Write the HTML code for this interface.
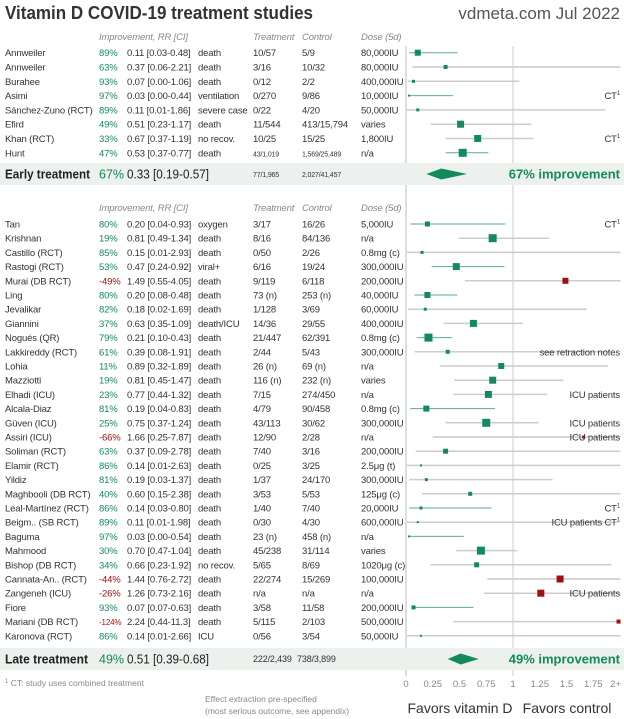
<!DOCTYPE html>
<html><head><meta charset="utf-8"><style>
html,body{margin:0;padding:0;background:#fff;}
svg{display:block;font-family:"Liberation Sans",sans-serif;}
</style></head><body>
<svg id="chart" width="624" height="719" viewBox="0 0 624 719" xmlns="http://www.w3.org/2000/svg">
<rect x="0" y="0" width="624" height="719" fill="#fff"/>
<text x="5" y="19" font-size="18" font-weight="bold" fill="#333" textLength="308" lengthAdjust="spacingAndGlyphs">Vitamin D COVID-19 treatment studies</text>
<text x="620" y="19" font-size="17" fill="#555" text-anchor="end">vdmeta.com Jul 2022</text>
<g id="g"></g>
</svg>
<script>
const earlyNames=["Annweiler","Annweiler","Burahee","Asimi","Sánchez-Zuno (RCT)","Efird","Khan (RCT)","Hunt"];
const earlyPct=["89%","63%","93%","97%","89%","49%","33%","47%"];
const earlyRR=[0.11,0.37,0.07,0.03,0.11,0.51,0.67,0.53];
const earlyLo=[0.03,0.06,0.00,0.00,0.01,0.23,0.37,0.37];
const earlyHi=[0.48,2.21,1.06,0.44,1.86,1.17,1.19,0.77];
const earlyOut=["death","death","death","ventilation","severe case","death","no recov.","death"];
const earlyT=["10/57","3/16","0/12","0/270","0/22","11/544","10/25","43/1,019"];
const earlyC=["5/9","10/32","2/2","9/86","4/20","413/15,794","15/25","1,569/25,489"];
const earlyDose=["80,000IU","80,000IU","400,000IU","10,000IU","50,000IU","varies","1,800IU","n/a"];
const earlyW=[6,4,3,2,3,7,7,8];
const earlyNote=["","","","CT¹","","","CT¹",""];

const lateNames=["Tan","Krishnan","Castillo (RCT)","Rastogi (RCT)","Murai (DB RCT)","Ling","Jevalikar","Giannini","Nogués (QR)","Lakkireddy (RCT)","Lohia","Mazziotti","Elhadi (ICU)","Alcala-Diaz","Güven (ICU)","Assiri (ICU)","Soliman (RCT)","Elamir (RCT)","Yildiz","Maghbooli (DB RCT)","Leal-Martínez (RCT)","Beigm.. (SB RCT)","Baguma","Mahmood","Bishop (DB RCT)","Cannata-An.. (RCT)","Zangeneh (ICU)","Fiore","Mariani (DB RCT)","Karonova (RCT)"];
const latePct=["80%","19%","85%","53%","-49%","80%","82%","37%","79%","61%","11%","19%","23%","81%","25%","-66%","63%","86%","81%","40%","86%","89%","97%","30%","34%","-44%","-26%","93%","-124%","86%"];
const lateRR=[0.20,0.81,0.15,0.47,1.49,0.20,0.18,0.63,0.21,0.39,0.89,0.81,0.77,0.19,0.75,1.66,0.37,0.14,0.19,0.60,0.14,0.11,0.03,0.70,0.66,1.44,1.26,0.07,2.24,0.14];
const lateLo=[0.04,0.49,0.01,0.24,0.55,0.08,0.02,0.35,0.10,0.08,0.32,0.45,0.44,0.04,0.37,0.25,0.09,0.01,0.03,0.15,0.03,0.01,0.00,0.47,0.23,0.76,0.73,0.07,0.44,0.01];
const lateHi=[0.93,1.34,2.93,0.92,4.05,0.48,1.69,1.09,0.43,1.91,1.89,1.47,1.32,0.83,1.24,7.87,2.78,2.63,1.37,2.38,0.80,1.98,0.54,1.04,1.92,2.72,2.16,0.63,11.3,2.66];
const lateOut=["oxygen","death","death","viral+","death","death","death","death/ICU","death","death","death","death","death","death","death","death","death","death","death","death","death","death","death","death","no recov.","death","death","death","death","ICU"];
const lateT=["3/17","8/16","0/50","6/16","9/119","73 (n)","1/128","14/36","21/447","2/44","26 (n)","116 (n)","7/15","4/79","43/113","12/90","7/40","0/25","1/37","3/53","1/40","0/30","23 (n)","45/238","5/65","22/274","n/a","3/58","5/115","0/56"];
const lateC=["16/26","84/136","2/26","19/24","6/118","253 (n)","3/69","29/55","62/391","5/43","69 (n)","232 (n)","274/450","90/458","30/62","2/28","3/16","3/25","24/170","5/53","7/40","4/30","458 (n)","31/114","8/69","15/269","n/a","11/58","2/103","3/54"];
const lateDose=["5,000IU","n/a","0.8mg (c)","300,000IU","200,000IU","40,000IU","60,000IU","400,000IU","0.8mg (c)","300,000IU","n/a","varies","n/a","0.8mg (c)","300,000IU","n/a","200,000IU","2.5μg (t)","300,000IU","125μg (c)","20,000IU","600,000IU","n/a","varies","1020μg (c)","100,000IU","n/a","200,000IU","500,000IU","50,000IU"];
const lateW=[5,8,3,7,6,6,3,7,8,4,6,7,7,6,8,3,5,2,3,4,3,2,2,8,5,7,7,4,4,2];
const lateNote=["CT¹","","","","","","","","","see retraction notes","","","ICU patients","","ICU patients","ICU patients","","","","","CT¹","ICU patients CT¹","","","","","ICU patients","","",""];

const sumLabels=["Early treatment","Late treatment"];
const sumPct=["67%","49%"];
const sumRR=[0.33,0.51];
const sumLo=[0.19,0.39];
const sumHi=[0.57,0.68];
const sumT=["77/1,965","222/2,439"];
const sumC=["2,027/41,457","738/3,899"];
const ticks=[0,0.25,0.5,0.75,1,1.25,1.5,1.75,2];
const tickLabels=["0","0.25","0.5","0.75","1","1.25","1.5","1.75","2+"];

const NS="http://www.w3.org/2000/svg";
const g=document.getElementById('g');
const X0=406, XS=107;
function xs(v){return X0+XS*Math.min(v,2.005);}
function mk(tag,attrs,txt){const e=document.createElementNS(NS,tag);for(const k in attrs)e.setAttribute(k,attrs[k]);if(txt!==undefined)e.textContent=txt;g.appendChild(e);return e;}
const GREEN="#138a5c", RED="#a01010", TXT="#333";
const FS=9.5, LS=-0.15;

let e=mk('line',{x1:X0,x2:X0,y1:46,y2:676,stroke:"#bbb","stroke-width":1});


e=mk('line',{x1:xs(1),x2:xs(1),y1:46,y2:676,stroke:"#ccc","stroke-width":1});



function header(y){
  const h=[["Improvement, RR [CI]",99],["Treatment",253],["Control",302],["Dose (5d)",361]];
  h.forEach(([t,x])=>{const el=mk('text',{x:x,y:y,"font-size":9.5,"font-style":"italic",fill:"#888","letter-spacing":LS},t);
    
    });
}
header(40); header(211);

function rows(names,pct,rr,lo,hi,out,T,C,dose,w,note,y0,dy,grp){
  for(let i=0;i<names.length;i++){
    const y=y0+i*dy, b=y+3.5;
    const neg=pct[i].startsWith('-');
    let t=mk('text',{x:5,y:b,"font-size":FS,fill:TXT,"letter-spacing":LS},names[i]);
    
    
    t=mk('text',{x:99,y:b,"font-size":pct[i].length>4?8:FS,fill:neg?RED:GREEN,"letter-spacing":LS},pct[i]);
    
    
    const hs=hi[i]>=10?hi[i].toFixed(1):hi[i].toFixed(2);
    t=mk('text',{x:127,y:b,"font-size":FS,fill:TXT,"letter-spacing":LS},rr[i].toFixed(2)+" ["+lo[i].toFixed(2)+"-"+hs+"]");
    
    
    t=mk('text',{x:198,y:b,"font-size":FS,fill:TXT,"letter-spacing":LS},out[i]);
    
    
    t=mk('text',{x:253,y:b,"font-size":T[i].length>7?7:FS,fill:TXT,"letter-spacing":LS},T[i]);
    
    
    t=mk('text',{x:302,y:b,"font-size":C[i].length>10?7:FS,fill:TXT,"letter-spacing":LS},C[i]);
    
    
    t=mk('text',{x:361,y:b,"font-size":FS,fill:TXT,"letter-spacing":LS},dose[i]);
    
    
    const sig=hi[i]<1;
    const l=mk('line',{x1:xs(lo[i])+(lo[i]===0?2:0),x2:xs(hi[i]),y1:y,y2:y,stroke:sig?"#5aae88":"#ccc","stroke-width":sig?1:1.5});
    
    
    const s=w[i], col=rr[i]>1?RED:GREEN;
    const r=mk('rect',{x:xs(rr[i])-s/2-(rr[i]>2?s/2:0),y:y-s/2,width:s,height:s,fill:col});
    
    
    if(note[i]){
      const parts=note[i].split('¹');
      const nt=mk('text',{x:620,y:b,"font-size":FS,fill:TXT,"text-anchor":"end","letter-spacing":LS});
      
      
      nt.textContent=parts[0];
      if(note[i].includes('¹')){const sp=document.createElementNS(NS,'tspan');sp.setAttribute('font-size',6);sp.setAttribute('dy',-4);sp.textContent='1';nt.appendChild(sp);}
    }
  }
}
rows(earlyNames,earlyPct,earlyRR,earlyLo,earlyHi,earlyOut,earlyT,earlyC,earlyDose,earlyW,earlyNote,52.7,14.3,'early');
rows(lateNames,latePct,lateRR,lateLo,lateHi,lateOut,lateT,lateC,lateDose,lateW,lateNote,224,14.2,'late');

const bandY=[163,648];
for(let k=0;k<2;k++){
  const y=bandY[k], c=y+11, b=c+4.5;
  let r=mk('rect',{x:0,y:y,width:624,height:22,fill:"#edf1ee"});
  
  
  let t=mk('text',{x:5,y:b,"font-size":13,"font-weight":"bold",fill:"#222",textLength:k===0?85:83,lengthAdjust:"spacingAndGlyphs"},sumLabels[k]);
  
  
  t=mk('text',{x:99,y:b,"font-size":12.5,fill:GREEN},sumPct[k]);
  
  
  t=mk('text',{x:127,y:b,"font-size":12.5,fill:"#222",textLength:82,lengthAdjust:"spacingAndGlyphs"},sumRR[k].toFixed(2)+" ["+sumLo[k].toFixed(2)+"-"+sumHi[k].toFixed(2)+"]");
  
  
  const fs=k===0?7:9;
  t=mk('text',{x:253,y:c+3,"font-size":fs,fill:TXT,"letter-spacing":LS},sumT[k]);
  
  
  t=mk('text',{x:k===0?302:297,y:c+3,"font-size":fs,fill:TXT,"letter-spacing":LS},sumC[k]);
  
  
  const p=mk('polygon',{points:`${xs(sumLo[k])},${c} ${xs(sumRR[k])},${c-5.5} ${xs(sumHi[k])},${c} ${xs(sumRR[k])},${c+5.5}`,fill:GREEN});
  
  
  t=mk('text',{x:620,y:b,"font-size":13,"font-weight":"bold",fill:GREEN,"text-anchor":"end"},sumPct[k]+" improvement");
  
  
}

for(let i=0;i<ticks.length;i++){
  const t=mk('text',{x:xs(ticks[i]),y:687,"font-size":9.5,fill:"#888","text-anchor":i===ticks.length-1?"end":"middle"},tickLabels[i]);
  if(i===ticks.length-1)t.setAttribute('x',621);
  
  
}
let f=mk('text',{x:5,y:686,"font-size":8.5,fill:"#888"});


f.innerHTML='<tspan font-size="6" dy="-3">1</tspan><tspan dy="3"> CT: study uses combined treatment</tspan>';
f=mk('text',{x:205,y:702,"font-size":8.5,fill:"#888"},"Effect extraction pre-specified");


f=mk('text',{x:205,y:714,"font-size":8.5,fill:"#888"},"(most serious outcome, see appendix)");


f=mk('text',{x:460,y:713,"font-size":14,fill:"#333","text-anchor":"middle"},"Favors vitamin D");


f=mk('text',{x:567,y:713,"font-size":14,fill:"#333","text-anchor":"middle"},"Favors control");


</script>
</body></html>
